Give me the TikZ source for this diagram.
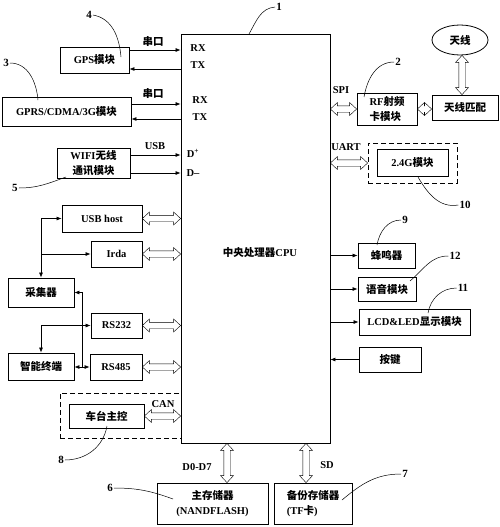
\documentclass[tikz,border=0pt]{standalone}
\usepackage{fontspec}
\setmainfont{Liberation Serif}
\newfontfamily\cjk{Noto Sans CJK SC}
\newcommand\zh[1]{{\cjk #1}}
\usetikzlibrary{arrows.meta,calc,shapes.geometric}
\def\fl{7pt}\def\fw{6.5pt}\def\fs{3.2pt}
\tikzset{
  every node/.style={font=\bfseries\fontsize{10.5}{15}\selectfont, inner sep=1pt},
  box/.style={draw, line width=0.8pt, align=center},
  dbox/.style={draw, line width=0.8pt, dash pattern=on 5pt off 3pt},
  arr/.style={line width=0.7pt, -{Latex[length=5pt,width=4pt]}},
  barr/.style={line width=0.7pt, {Latex[length=5pt,width=4pt]}-{Latex[length=5pt,width=4pt]}},
  lead/.style={line width=0.5pt},
  lbl/.style={font=\bfseries\fontsize{11}{13}\selectfont},
  fatH/.style={line width=0.7pt, to path={let \p1=(\tikztostart), \p2=(\tikztotarget),
      \n1={ifthenelse(\x2>\x1,1,-1)} in
      -- ({\x1+\n1*\fl},{\y1+\fw}) -- ({\x1+\n1*\fl},{\y1+\fs}) -- ({\x2-\n1*\fl},{\y1+\fs})
      -- ({\x2-\n1*\fl},{\y1+\fw}) -- (\x2,\y1) -- ({\x2-\n1*\fl},{\y1-\fw})
      -- ({\x2-\n1*\fl},{\y1-\fs}) -- ({\x1+\n1*\fl},{\y1-\fs}) -- ({\x1+\n1*\fl},{\y1-\fw}) -- cycle}},
  fatV/.style={line width=0.7pt, to path={let \p1=(\tikztostart), \p2=(\tikztotarget),
      \n1={ifthenelse(\y2>\y1,1,-1)} in
      -- ({\x1+\fw},{\y1+\n1*\fl}) -- ({\x1+\fs},{\y1+\n1*\fl}) -- ({\x1+\fs},{\y2-\n1*\fl})
      -- ({\x1+\fw},{\y2-\n1*\fl}) -- (\x1,\y2) -- ({\x1-\fw},{\y2-\n1*\fl})
      -- ({\x1-\fs},{\y2-\n1*\fl}) -- ({\x1-\fs},{\y1+\n1*\fl}) -- ({\x1-\fw},{\y1+\n1*\fl}) -- cycle}},
}
\begin{document}
\begin{tikzpicture}[x=1pt,y=-1pt]
\useasboundingbox (0,0) rectangle (500,527);
% CPU
\node[box, minimum width=149pt, minimum height=409pt] (cpu) at (255.5,238.5) {};
\node (cputxt) at (260,253) {\zh{中央处理器}CPU};
% left top modules
\node[box, minimum width=69pt, minimum height=26pt] (gps) at (94.5,60) {GPS\zh{模块}};
\node[box, minimum width=129pt, minimum height=29pt] (gprs) at (66.5,111.5) {GPRS/CDMA/3G\zh{模块}};
\node[box, minimum width=73pt, minimum height=30pt] (wifi) at (93.5,163) {WIFI\zh{无线}\\\zh{通讯模块}};
% right top modules
\node[box, minimum width=60pt, minimum height=32pt, align=left] (rf) at (387,109) {RF\zh{射频}\\\zh{卡模块}};
\node[box, minimum width=66pt, minimum height=25pt] (match) at (465,107.5) {\zh{天线匹配}};
\node[ellipse, draw, line width=0.8pt, minimum width=56pt, minimum height=30pt, inner sep=0pt] (ant) at (460,40) {\zh{天线}};
\node[dbox, minimum width=89pt, minimum height=40pt] (g24d) at (412.5,163) {};
\node[box, minimum width=71pt, minimum height=27pt] (g24) at (412.5,162.5) {2.4G\zh{模块}};
% right lower modules
\node[box, minimum width=57pt, minimum height=25pt] (beep) at (386.5,255.5) {\zh{蜂鸣器}};
\node[box, minimum width=58pt, minimum height=24pt] (voice) at (387,289) {\zh{语音模块}};
\node[box, minimum width=111pt, minimum height=26pt] (lcd) at (414.5,322) {LCD\&LED\zh{显示模块}};
\node[box, minimum width=62pt, minimum height=25pt] (key) at (390,359.5) {\zh{按键}};
% left lower modules
\node[box, minimum width=80pt, minimum height=27pt] (usbh) at (102,218.5) {USB host};
\node[box, minimum width=51pt, minimum height=26pt] (irda) at (116.5,254) {Irda};
\node[box, minimum width=66pt, minimum height=29pt] (cjq) at (41,292.5) {\zh{采集器}};
\node[box, minimum width=51pt, minimum height=25pt] (rs232) at (116.5,325.5) {RS232};
\node[box, minimum width=66pt, minimum height=27pt] (zndz) at (41,366.5) {\zh{智能终端}};
\node[box, minimum width=52pt, minimum height=26pt] (rs485) at (116,367) {RS485};
\node[dbox, minimum width=121pt, minimum height=45pt] (cand) at (120.5,415.5) {};
\node[box, minimum width=75pt, minimum height=24pt] (ctzk) at (106.5,416) {\zh{车台主控}};
% bottom modules
\node[box, minimum width=111pt, minimum height=41pt] (mem) at (212.5,503.5) {\zh{主存储器}\\(NANDFLASH)};
\node[box, minimum width=78pt, minimum height=41pt, align=left] (bak) at (313,503.5) {\zh{备份存储器}\\(TF\zh{卡})};

% serial lines left
\draw[arr] ([yshift=10pt]gps.east) -- ([yshift=10pt]gps.east -| cpu.west);
\draw[arr] ([yshift=-9pt]gps.east -| cpu.west) -- ([yshift=-9pt]gps.east);
\draw[arr] ([yshift=7.5pt]gprs.east) -- ([yshift=7.5pt]gprs.east -| cpu.west);
\draw[arr] ([yshift=-7.5pt]gprs.east -| cpu.west) -- ([yshift=-7.5pt]gprs.east);
\draw[arr] ([yshift=8pt]wifi.east) -- ([yshift=8pt]wifi.east -| cpu.west);
\draw[arr] ([yshift=-10pt]wifi.east) -- ([yshift=-10pt]wifi.east -| cpu.west);
\node (sk1) at (153,42) {\zh{串口}};
\node (sk2) at (153,94) {\zh{串口}};
\node (usbl) at (155,146) {USB};
\node (rx1) at (198,48) {RX};
\node (tx1) at (198,65) {TX};
\node (rx2) at (200,100) {RX};
\node (tx2) at (200,117) {TX};
\node (dp) at (193,153) {D\textsuperscript{+}};
\node (dm) at (193,173) {D--};

% right side
\draw (cpu.east |- rf.west) to[fatH] (rf.west);
\draw (rf.east) to[fatH] (rf.east -| match.west);
\draw ([xshift=2pt]ant.south) to[fatV] ([xshift=2pt]ant.south |- match.north);
\draw (cpu.east |- g24d.west) to[fatH] (g24d.west);
\node (spi) at (341,90) {SPI};
\node (uart) at (346,147) {UART};
\draw[arr] (cpu.east |- beep.west) -- (beep.west);
\draw[arr] (cpu.east |- voice.west) -- (voice.west);
\draw[arr] (cpu.east |- lcd.west) -- (lcd.west);
\draw[arr] (key.west) -- (cpu.east |- key.west);

% left lower
\draw (usbh.east) to[fatH] (usbh.east -| cpu.west);
\draw (irda.east) to[fatH] (irda.east -| cpu.west);
\draw (rs232.east) to[fatH] (rs232.east -| cpu.west);
\draw (rs485.east) to[fatH] (rs485.east -| cpu.west);
\draw (ctzk.east) to[fatH] (ctzk.east -| cpu.west);
\node (can) at (163,404) {CAN};
\draw[barr] (usbh.west) -| (cjq.north);
\draw[arr] (cjq.north |- irda.west) -- (irda.west);
\coordinate (bx) at (82,0);
\draw[barr] (cjq.east) -| (bx |- rs485.west) -- (rs485.west);
\draw[arr] (bx |- rs485.west) -- (zndz.east |- rs485.west);
\draw[barr] (rs232.west) -| (zndz.north);

% bottom
\coordinate (d0) at ([xshift=14.5pt]mem.north);
\coordinate (sdc) at ([xshift=-7pt]bak.north);
\draw (d0 |- cpu.south) to[fatV] (d0);
\draw (sdc |- cpu.south) to[fatV] (sdc);
\node (d07) at (197,467) {D0-D7};
\node (sd) at (327,465) {SD};

% reference numbers
\node[lbl] (n1) at (279,7) {1};
\node[lbl] (n2) at (398,62) {2};
\node[lbl] (n3) at (6,63) {3};
\node[lbl] (n4) at (89,15) {4};
\node[lbl] (n5) at (15,188) {5};
\node[lbl] (n6) at (110,488) {6};
\node[lbl] (n7) at (405,474) {7};
\node[lbl] (n8) at (61,460) {8};
\node[lbl] (n9) at (405,220) {9};
\node[lbl] (n10) at (465,205) {10};
\node[lbl] (n11) at (463,288) {11};
\node[lbl] (n12) at (455,256) {12};
\coordinate (e1) at (249,34);
\coordinate (e2) at (364,97);
\coordinate (e3) at (38,100);
\coordinate (e4) at (121,57);
\coordinate (e5) at (66,177);
\coordinate (e6) at (173,499);
\coordinate (e7) at (342,500);
\coordinate (e8) at (107,426);
\coordinate (e9) at (377,245);
\coordinate (e10) at (418,177);
\coordinate (e11) at (428,313);
\coordinate (e12) at (410,281);
\draw[lead] (n1.west) to[out=185,in=60] (e1);
\draw[lead] (n2.west) to[out=180,in=80] (e2);
\draw[lead] (n3.east) to[out=0,in=95] (e3);
\draw[lead] (n4.east) to[out=-10,in=95] (e4);
\draw[lead] (n5.east) to[out=0,in=200] (e5);
\draw[lead] (n6.east) to[out=0,in=160] (e6);
\draw[lead] (n7.west) to[out=180,in=40] (e7);
\draw[lead] (n8.east) to[out=0,in=-100] (e8);
\draw[lead] (n9.west) to[out=180,in=80] (e9);
\draw[lead] (n10.west) to[out=190,in=-60] (e10);
\draw[lead] (n11.west) to[out=180,in=80] (e11);
\draw[lead] (n12.west) to[out=180,in=40] (e12);
\end{tikzpicture}
\end{document}
